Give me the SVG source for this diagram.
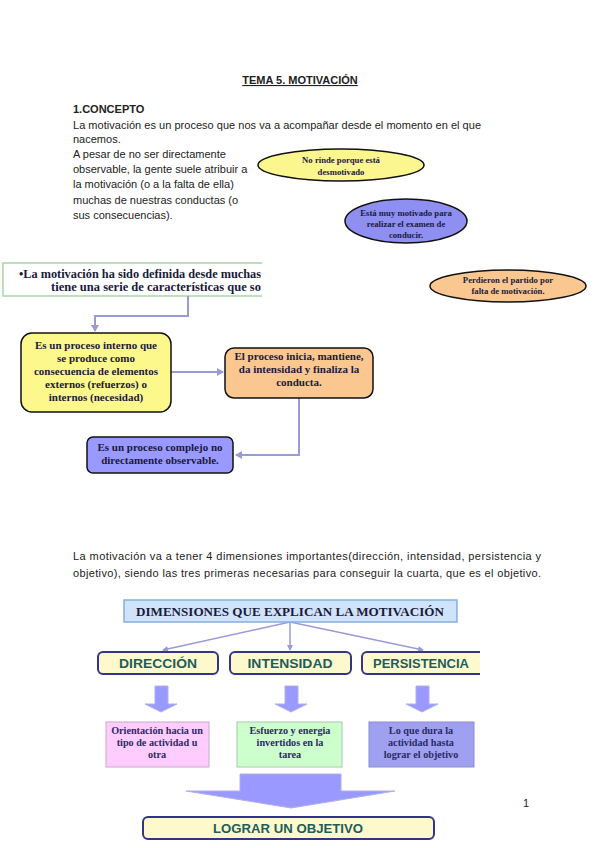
<svg xmlns="http://www.w3.org/2000/svg" width="599" height="848" viewBox="0 0 599 848">
<style>
.body{font-family:"Liberation Sans",Arial,sans-serif;font-size:11px;fill:#222}
.ser{font-family:"Liberation Serif","Times New Roman",serif;font-weight:bold;fill:#1a1a3a;text-anchor:middle}
.st{text-anchor:start}
.e{font-size:8.7px}
.b{font-size:11px}
.s{font-size:10.2px;fill:#2a2a66}
.dim{font-family:"Liberation Sans",Arial,sans-serif;font-weight:bold;font-size:13px;fill:#1d5c5c;text-anchor:middle}
.conn{fill:none;stroke:#9a9ad8;stroke-width:2}
.thin{fill:none;stroke:#9a9ad8;stroke-width:1.5}
.dbox{fill:#fdf9cc;stroke:#333388;stroke-width:2}
.barrow{fill:#9999ff;stroke:#b0b0e8;stroke-width:1}
</style>
<defs>
<marker id="ah" markerWidth="8" markerHeight="8" refX="6" refY="4" orient="auto" markerUnits="userSpaceOnUse">
<path d="M0,0 L7,4 L0,8 Z" fill="#9a9ad8"/>
</marker>
<marker id="ah2" markerWidth="6" markerHeight="6" refX="5" refY="3" orient="auto" markerUnits="userSpaceOnUse">
<path d="M0,0 L6,3 L0,6 Z" fill="#9a9ad8"/>
</marker>
<clipPath id="clipL"><rect x="0" y="250" width="262" height="60"/></clipPath>
<clipPath id="clipR"><rect x="300" y="640" width="180" height="45"/></clipPath>
</defs>
<rect width="599" height="848" fill="#fff"/>

<g id="text-header">
<text x="300" y="84" class="body" font-weight="bold" text-anchor="middle" text-decoration="underline">TEMA 5. MOTIVACIÓN</text>
<text x="73" y="113" class="body" font-weight="bold">1.CONCEPTO</text>
<text x="73" y="129" class="body" textLength="408" lengthAdjust="spacing">La motivación es un proceso que nos va a acompañar desde el momento en el que</text>
<text x="73" y="143" class="body">nacemos.</text>
<text x="73" y="158" class="body">A pesar de no ser directamente</text>
<text x="73" y="173" class="body">observable, la gente suele atribuir a</text>
<text x="73" y="188" class="body">la motivación (o a la falta de ella)</text>
<text x="73" y="204" class="body">muchas de nuestras conductas (o</text>
<text x="73" y="219" class="body">sus consecuencias).</text>
</g>

<g id="ellipse-yellow">
<ellipse cx="341" cy="165" rx="83" ry="16" fill="#fbf68e" stroke="#111" stroke-width="1.5"/>
<text x="341" y="163" class="ser e">No rinde porque está</text>
<text x="341" y="175" class="ser e">desmotivado</text>
</g>
<g id="ellipse-blue">
<ellipse cx="406" cy="221" rx="61" ry="22" fill="#8f8ff2" stroke="#111" stroke-width="1.5"/>
<text x="406" y="216" class="ser e">Está muy motivado para</text>
<text x="406" y="227" class="ser e">realizar el examen de</text>
<text x="406" y="238" class="ser e">conducir.</text>
</g>
<g id="ellipse-orange">
<ellipse cx="508" cy="286" rx="78" ry="16" fill="#fac790" stroke="#111" stroke-width="1.5"/>
<text x="508" y="283" class="ser e">Perdieron el partido por</text>
<text x="508" y="294" class="ser e">falta de motivación.</text>
</g>

<g id="def-box">
<rect x="3" y="263" width="300" height="33" fill="#fff" stroke="#a8d5a8" stroke-width="1.5" clip-path="url(#clipL)"/>
<text x="19" y="278" class="ser st" font-size="12.5" textLength="242" lengthAdjust="spacingAndGlyphs">•La motivación ha sido definida desde muchas</text>
<text x="51" y="291" class="ser st" font-size="12.5" textLength="210" lengthAdjust="spacingAndGlyphs">tiene una serie de características que so</text>
</g>

<g id="connectors">
<path class="conn" d="M188,296 V316 H95 V331" marker-end="url(#ah)"/>
<path class="conn" d="M171,372 H223" marker-end="url(#ah)"/>
<path class="conn" d="M299,398 V455 H236" marker-end="url(#ah)"/>
<path class="thin" d="M290,622 L163,650" marker-end="url(#ah2)"/>
<path class="thin" d="M290,622 L290,650" marker-end="url(#ah2)"/>
<path class="thin" d="M290,622 L423,650" marker-end="url(#ah2)"/>
</g>

<g id="box-yellow">
<rect x="21" y="333" width="150" height="79" rx="11" fill="#fdf88b" stroke="#111" stroke-width="1.5"/>
<text x="96" y="349" class="ser b">Es un proceso interno que</text>
<text x="96" y="362" class="ser b">se produce como</text>
<text x="96" y="375" class="ser b">consecuencia de elementos</text>
<text x="96" y="388" class="ser b">externos (refuerzos) o</text>
<text x="96" y="401" class="ser b">internos (necesidad)</text>
</g>
<g id="box-orange">
<rect x="225" y="348" width="148" height="50" rx="9" fill="#fac790" stroke="#111" stroke-width="1.5"/>
<text x="299" y="360" class="ser b">El proceso inicia, mantiene,</text>
<text x="299" y="373" class="ser b">da intensidad y finaliza la</text>
<text x="299" y="386" class="ser b">conducta.</text>
</g>
<g id="box-blue">
<rect x="87" y="437" width="146" height="36" rx="6" fill="#9999ff" stroke="#111" stroke-width="1.5"/>
<text x="160" y="451" class="ser b">Es un proceso complejo no</text>
<text x="160" y="464" class="ser b">directamente observable.</text>
</g>

<g id="text-para2">
<text x="73" y="560" class="body" textLength="468" lengthAdjust="spacing">La motivación va a tener 4 dimensiones importantes(dirección, intensidad, persistencia y</text>
<text x="73" y="577" class="body" textLength="468" lengthAdjust="spacing">objetivo), siendo las tres primeras necesarias para conseguir la cuarta, que es el objetivo.</text>
</g>

<g id="dim-header">
<rect x="124" y="600" width="333" height="22" fill="#cfe3fb" stroke="#86aee0" stroke-width="1.5"/>
<text x="290" y="616" class="ser" font-size="13" fill="#1a1a4a" textLength="308" lengthAdjust="spacingAndGlyphs">DIMENSIONES QUE EXPLICAN LA MOTIVACIÓN</text>
</g>

<g id="dim-direccion">
<rect x="98" y="652" width="120" height="22" rx="5" class="dbox"/>
<text x="158" y="668" class="dim" textLength="78" lengthAdjust="spacingAndGlyphs">DIRECCIÓN</text>
</g>
<g id="dim-intensidad">
<rect x="230" y="652" width="121" height="22" rx="5" class="dbox"/>
<text x="290" y="668" class="dim" textLength="85" lengthAdjust="spacingAndGlyphs">INTENSIDAD</text>
</g>
<g id="dim-persistencia">
<rect x="362" y="652" width="130" height="22" rx="5" class="dbox" clip-path="url(#clipR)"/>
<text x="421" y="668" class="dim" textLength="96" lengthAdjust="spacingAndGlyphs">PERSISTENCIA</text>
</g>

<g id="arrows-block">
<path class="barrow" d="M155,686 H168 V704 H177 L161,712 L145,704 H155 Z"/>
<path class="barrow" d="M285,686 H298 V704 H307 L291,712 L275,704 H285 Z"/>
<path class="barrow" d="M416,686 H429 V704 H438 L422,712 L406,704 H416 Z"/>
<path class="barrow" d="M240,774 H341 V791 H395 L291,808 L186,791 H240 Z"/>
</g>

<g id="desc-direccion">
<rect x="106" y="722" width="103" height="45" fill="#ffccff" stroke="#c8a8c8" stroke-width="1"/>
<text x="157" y="734" class="ser s">Orientación  hacia un</text>
<text x="157" y="746" class="ser s">tipo de actividad u</text>
<text x="157" y="758" class="ser s">otra</text>
</g>
<g id="desc-intensidad">
<rect x="237" y="722" width="105" height="45" fill="#ccffcc" stroke="#a8c8a8" stroke-width="1"/>
<text x="290" y="734" class="ser s">Esfuerzo  y energia</text>
<text x="290" y="746" class="ser s">invertidos  en la</text>
<text x="290" y="758" class="ser s">tarea</text>
</g>
<g id="desc-persistencia">
<rect x="369" y="722" width="105" height="45" fill="#a0a0f0" stroke="#8c8cd0" stroke-width="1"/>
<text x="421" y="734" class="ser s">Lo que dura la</text>
<text x="421" y="746" class="ser s">actividad  hasta</text>
<text x="421" y="758" class="ser s">lograr el objetivo</text>
</g>

<g id="goal">
<rect x="143" y="817" width="291" height="22" rx="5" class="dbox"/>
<text x="288" y="833" class="dim" textLength="150" lengthAdjust="spacingAndGlyphs">LOGRAR UN OBJETIVO</text>
</g>

<text x="523" y="807" class="body" font-size="10">1</text>
</svg>
